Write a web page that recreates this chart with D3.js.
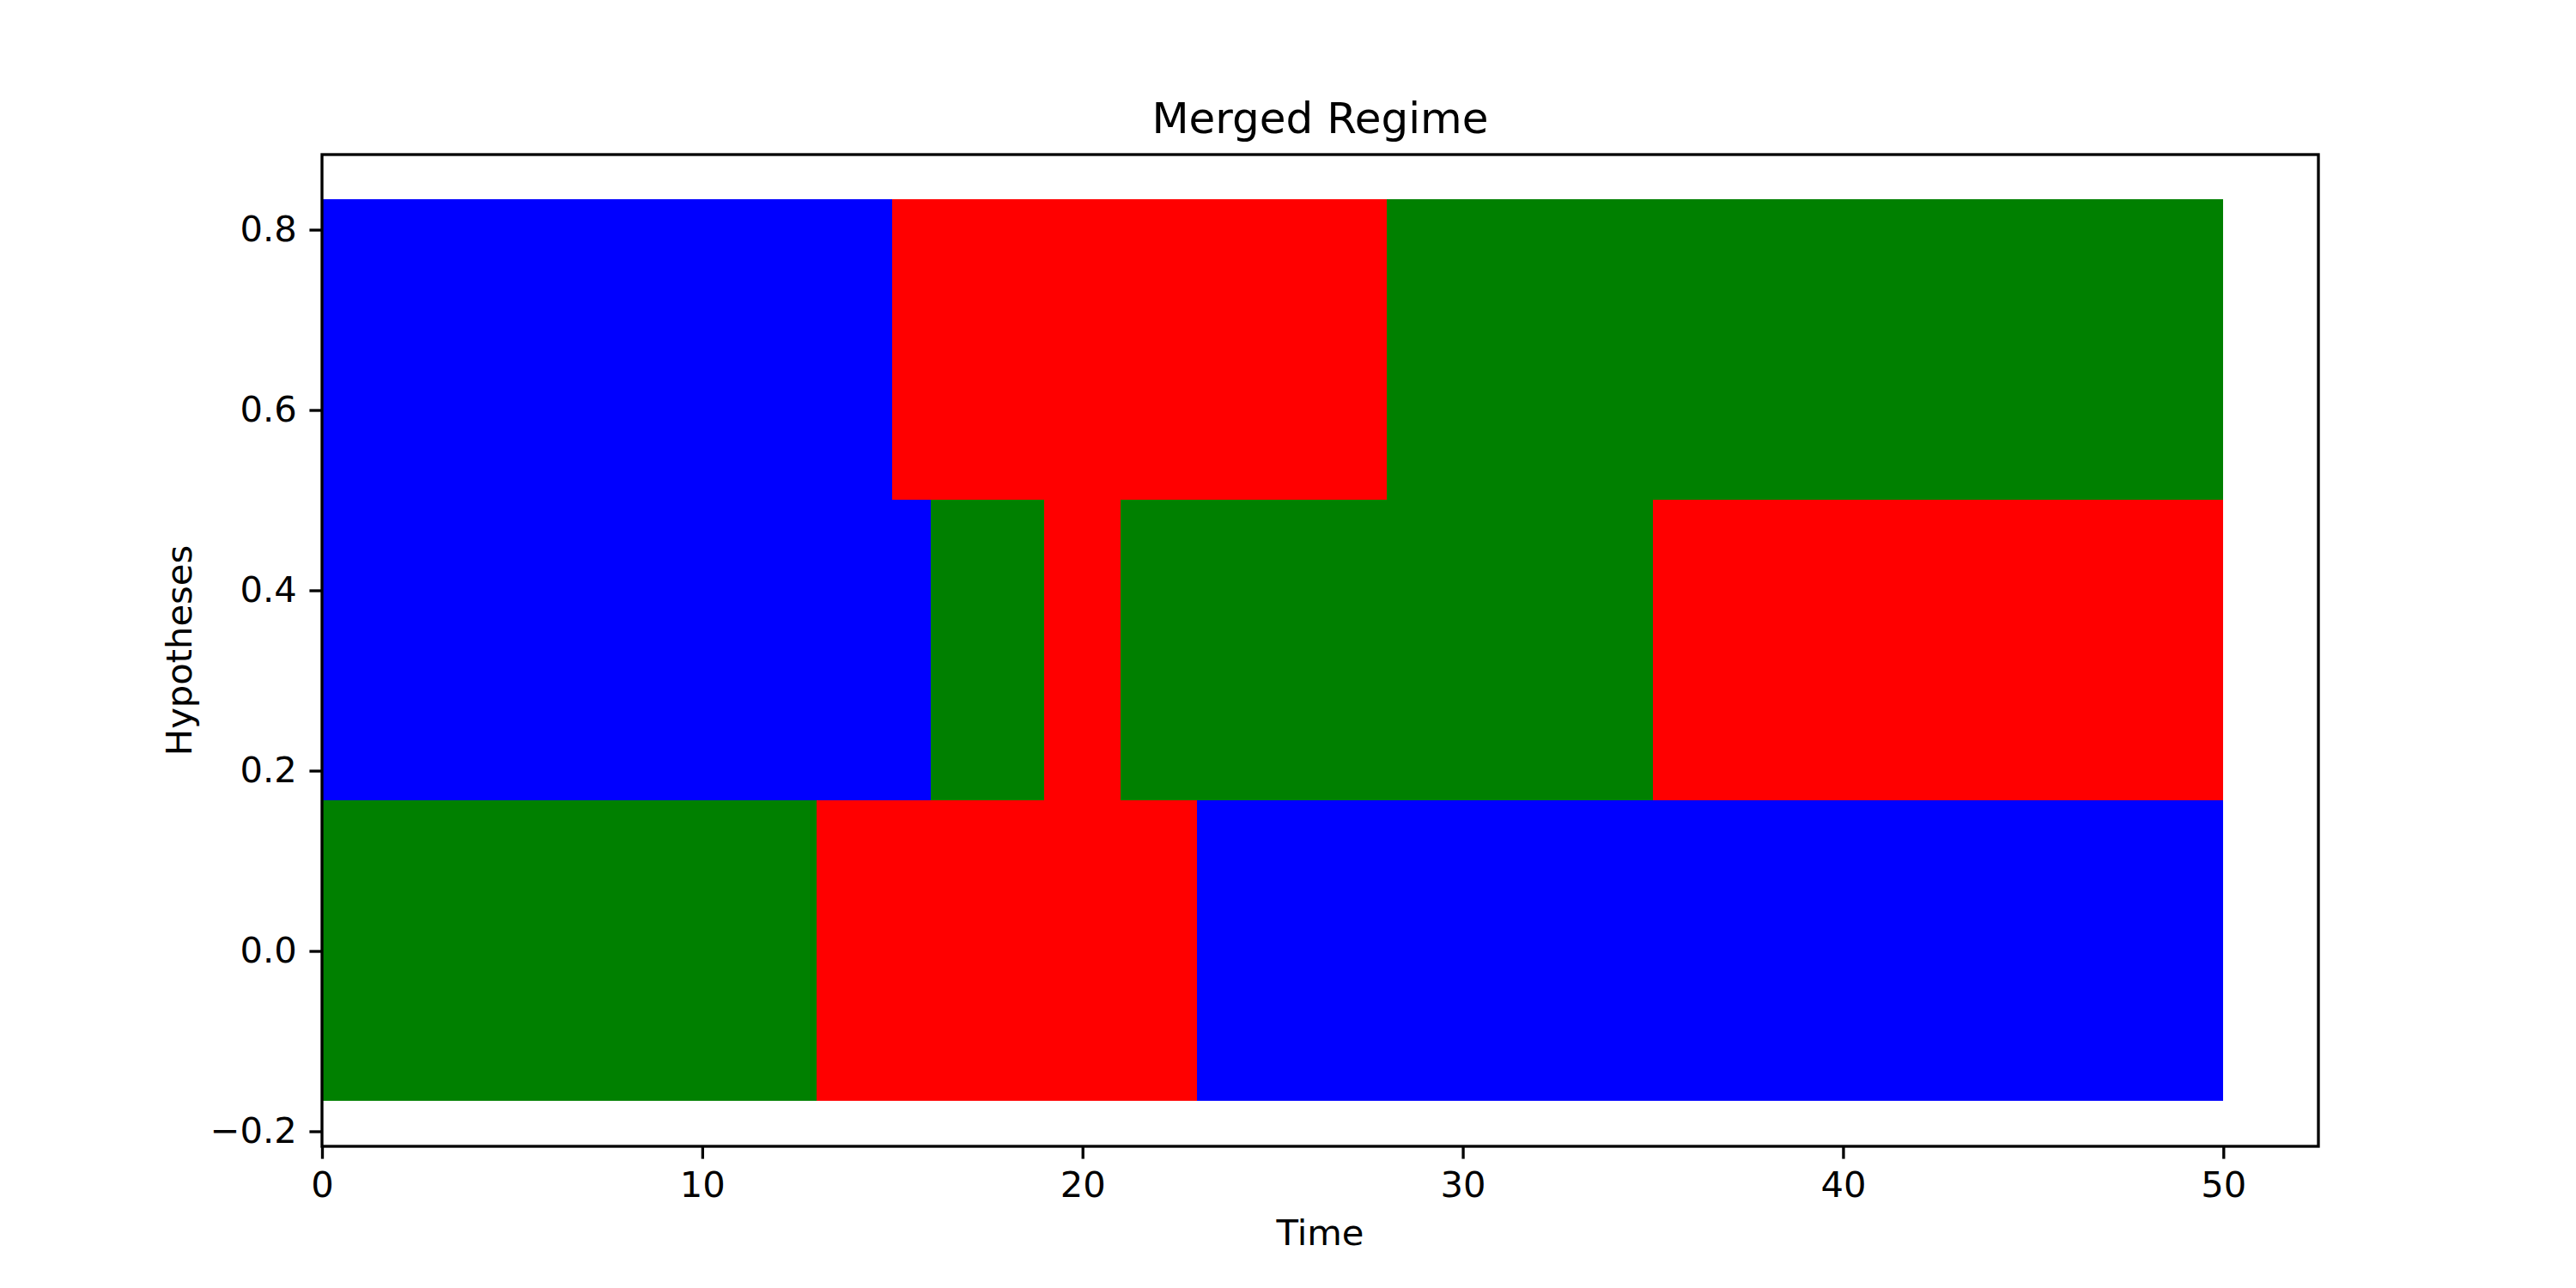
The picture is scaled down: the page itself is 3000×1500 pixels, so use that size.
<!DOCTYPE html>
<html><head><meta charset="utf-8">
<script src="https://cdn.jsdelivr.net/npm/d3@7"></script>
<style>body{margin:0;background:#fff}svg{display:block}text{font-family:"DejaVu Sans",sans-serif}</style>
</head><body>
<script>
// Data: each row (hypothesis level) split into regime segments over time
const rowCenters = [2/3, 1/3, 0.0];
const rowHeight = 1/3;
const topRow = [[0,15,"blue"],[15,28,"red"],[28,50,"green"]];
const midRow = [[0,16,"blue"],[16,19,"green"],[19,21,"red"],[21,35,"green"],[35,50,"red"]];
const botRow = [[0,13,"green"],[13,23,"red"],[23,50,"blue"]];
const rows = [topRow, midRow, botRow];
const xTicks = [0,10,20,30,40,50];
const yTicks = [-0.2,0.0,0.2,0.4,0.6,0.8];
const title = "Merged Regime", xLabel = "Time", yLabel = "Hypotheses";
const colorMap = {blue:"#0000ff", red:"#ff0000", green:"#008000"};

const W=3000,H=1500, L=375,R=2700,T=180,B=1335;
const svg=d3.select("body").append("svg").attr("width",W).attr("height",H);
const x=d3.scaleLinear().domain([0,52.5]).range([L,R]);
const y=d3.scaleLinear().domain([-0.21667,0.88333]).range([B,T]);

const segs=[];
rows.forEach((r,i)=>r.forEach(s=>segs.push({y:rowCenters[i],x0:s[0],x1:s[1],c:s[2]})));
svg.append("g").selectAll("rect").data(segs).join("rect")
  .attr("x",d=>Math.round(x(d.x0))).attr("width",d=>Math.round(x(d.x1))-Math.round(x(d.x0)))
  .attr("y",d=>Math.round(y(d.y+rowHeight/2))).attr("height",d=>Math.round(y(d.y-rowHeight/2))-Math.round(y(d.y+rowHeight/2)))
  .attr("fill",d=>colorMap[d.c]);

const fs=41.67, tl=14.6, lw=3.33;
const fmtY=v=>(v<0?"\u2212":"")+Math.abs(v).toFixed(1);
const xa=svg.append("g").attr("transform",`translate(0,${B})`)
  .call(d3.axisBottom(x).tickValues(xTicks).tickFormat(d3.format("d")).tickSize(tl).tickPadding(14.6));
const ya=svg.append("g").attr("transform",`translate(${L},0)`)
  .call(d3.axisLeft(y).tickValues(yTicks).tickFormat(fmtY).tickSize(tl).tickPadding(14.6));
[xa,ya].forEach(a=>{a.select(".domain").remove();a.selectAll("line").attr("stroke","#000").attr("stroke-width",lw);
  a.selectAll("text").attr("font-size",fs).attr("fill","#000").attr("font-family","DejaVu Sans");});
svg.append("rect").attr("x",L).attr("y",T).attr("width",R-L).attr("height",B-T)
  .attr("fill","none").attr("stroke","#000").attr("stroke-width",lw);

svg.append("text").attr("x",(L+R)/2).attr("y",T-25).attr("text-anchor","middle").attr("font-size",50).text(title);
svg.append("text").attr("x",(L+R)/2).attr("y",1450).attr("text-anchor","middle").attr("font-size",fs).text(xLabel);
svg.append("text").attr("transform",`translate(223,${(T+B)/2}) rotate(-90)`).attr("text-anchor","middle").attr("font-size",fs).text(yLabel);
</script>
</body></html>
